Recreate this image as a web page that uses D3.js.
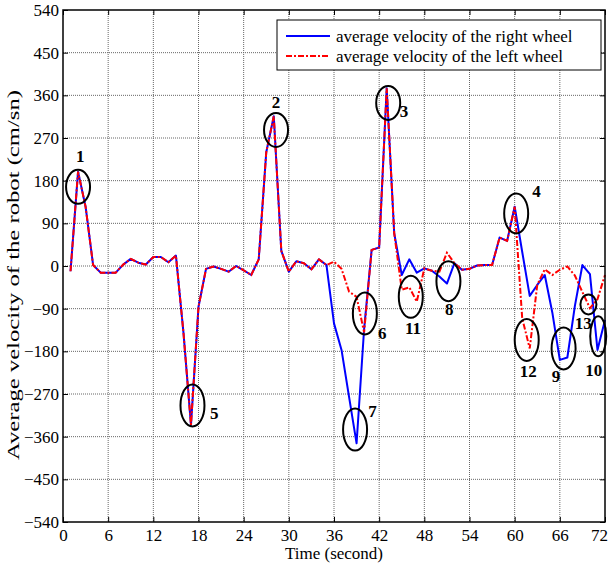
<!DOCTYPE html>
<html><head><meta charset="utf-8">
<script src="https://cdn.jsdelivr.net/npm/d3@7"></script>
<style>body{margin:0;background:#fff}svg{display:block}text{font-family:"Liberation Serif","Times New Roman",serif}</style>
</head><body>
<script>
const time = d3.range(1, 73);
const rightWheel = [-11,199,125,2,-14,-14,-14,3,15,7,3,19,19,8,22,-140,-335,-86,-6,-1,-6,-12,0,-9,-19,14,240,316,32,-12,10,6,-7,14,2,
  -121,-177,-276,-374,-133,34,39,375,69,-19,14,-14,-5,-10,-22,-37,6,-8,-6,1,2,2,60,53,125,
  30,-63,-40,-19,-98,-198,-193,-84,2,-17,-177,-114];
const leftWheel = [-11,199,125,2,-14,-14,-14,3,15,7,3,19,19,8,22,-140,-335,-86,-6,-1,-6,-12,0,-9,-19,14,240,316,32,-12,10,6,-7,14,2,
  9,-6,-54,-65,-140,34,39,375,69,-50,-45,-75,-5,-10,-12,28,6,-8,-6,1,2,2,60,53,125,
  -110,-174,-40,-7,-19,-8,-1,-20,-55,-89,-70,-19];
const xTicks = d3.range(0, 73, 6);
const yTicks = d3.range(-540, 541, 90);
const seriesNames = ["average velocity of the right wheel", "average velocity of the left wheel"];
// annotation markers: [label, time, value, rx, ry, labelTime, labelValue]
const marks = [
  ["1", 2, 167, 12, 17, 2.3, 230],
  ["2", 28.3, 287, 12, 17, 28.3, 344],
  ["3", 43.2, 344, 12, 17, 45.3, 326],
  ["4", 60.2, 111, 12, 20, 62.9, 158],
  ["5", 17.2, -294, 12, 21, 20.1, -311],
  ["6", 40.1, -100, 12, 21, 42.4, -142],
  ["7", 38.8, -345, 12, 21, 41.1, -307],
  ["8", 51.2, -32, 12, 20, 51.3, -92],
  ["9", 66.5, -174, 12, 21, 65.5, -233],
  ["10", 71.1, -148, 8, 20, 70.5, -220],
  ["11", 46.2, -65, 12, 21, 46.5, -132],
  ["12", 61.6, -156, 12, 21, 61.8, -223],
  ["13", 69.8, -81, 8, 10, 69.1, -122]
];

const W = 609, H = 569;
const m = {left: 63, right: 4, top: 10, bottom: 47};
const svg = d3.select("body").append("svg").attr("width", W).attr("height", H);
const x = d3.scaleLinear().domain([0, 72]).range([m.left, W - m.right]);
const y = d3.scaleLinear().domain([-540, 540]).range([H - m.bottom, m.top]);

// grid
const g = svg.append("g");
g.selectAll(".gx").data(xTicks.slice(1, -1)).join("line")
  .attr("x1", d => x(d)).attr("x2", d => x(d)).attr("y1", y(540)).attr("y2", y(-540))
  .attr("stroke", "#666").attr("stroke-width", 1).attr("stroke-dasharray", "1,1");
g.selectAll(".gy").data(yTicks.slice(1, -1)).join("line")
  .attr("y1", d => y(d)).attr("y2", d => y(d)).attr("x1", x(0)).attr("x2", x(72))
  .attr("stroke", "#666").attr("stroke-width", 1).attr("stroke-dasharray", "1,1");

// axes
const fs = 17;
const xAx = svg.append("g").attr("transform", `translate(0,${y(-540)})`)
  .call(d3.axisBottom(x).tickValues(xTicks).tickSizeInner(-5).tickSizeOuter(0).tickPadding(7));
const yAx = svg.append("g").attr("transform", `translate(${x(0)},0)`)
  .call(d3.axisLeft(y).tickValues(yTicks).tickSizeInner(-5).tickSizeOuter(0).tickPadding(4));
svg.append("g").attr("transform", `translate(0,${y(540)})`)
  .call(d3.axisTop(x).tickValues(xTicks).tickSizeInner(-5).tickSizeOuter(0).tickFormat(""));
svg.append("g").attr("transform", `translate(${x(72)},0)`)
  .call(d3.axisRight(y).tickValues(yTicks).tickSizeInner(-5).tickSizeOuter(0).tickFormat(""));
svg.selectAll(".domain").remove();
svg.selectAll(".tick line").attr("stroke", "#000");
svg.selectAll("g").attr("font-family", null);
[xAx, yAx].forEach(a => a.selectAll("text").attr("font-size", fs).attr("fill", "#000")
  .style("font-family", '"Liberation Serif","Times New Roman",serif'));
xAx.selectAll(".tick text").filter(d => d === 72).attr("dx", -6);

// data lines
const line = data => d3.line().x((d, i) => x(time[i])).y(d => y(d))(data);
const plot = svg.append("g");
plot.append("path").attr("d", line(rightWheel)).attr("fill", "none")
  .attr("stroke", "#0000ff").attr("stroke-width", 2).attr("stroke-linejoin", "round");
plot.append("path").attr("d", line(leftWheel)).attr("fill", "none")
  .attr("stroke", "#ff0000").attr("stroke-width", 2).attr("stroke-dasharray", "6,2,2,2");

// frame
svg.append("rect").attr("x", x(0)).attr("y", y(540)).attr("width", x(72) - x(0)).attr("height", y(-540) - y(540))
  .attr("fill", "none").attr("stroke", "#000").attr("stroke-width", 1.5);

// annotations
const an = svg.append("g");
marks.forEach(([lab, t, v, rx, ry, lt, lv]) => {
  an.append("ellipse").attr("cx", x(t)).attr("cy", y(v)).attr("rx", rx).attr("ry", ry)
    .attr("fill", "none").attr("stroke", "#000").attr("stroke-width", 2);
  an.append("text").attr("x", x(lt)).attr("y", y(lv)).attr("text-anchor", "middle")
    .attr("dominant-baseline", "central").attr("font-size", 17).attr("font-weight", "bold").text(lab);
});

// legend
const lg = svg.append("g");
lg.append("rect").attr("x", 277).attr("y", 20).attr("width", 324).attr("height", 50)
  .attr("fill", "#fff").attr("stroke", "#000").attr("stroke-width", 1);
const styles = [{c: "#0000ff", d: null}, {c: "#ff0000", d: "6,2,2,2"}];
seriesNames.forEach((n, i) => {
  const yy = 36 + i * 20;
  lg.append("line").attr("x1", 286).attr("x2", 330).attr("y1", yy).attr("y2", yy)
    .attr("stroke", styles[i].c).attr("stroke-width", 2).attr("stroke-dasharray", styles[i].d);
  lg.append("text").attr("x", 336).attr("y", yy).attr("dominant-baseline", "central")
    .attr("font-size", 17).text(n);
});

// axis titles
svg.append("text").attr("x", (x(0) + x(72)) / 2).attr("y", 559).attr("text-anchor", "middle")
  .attr("font-size", 17).text("Time (second)");
svg.append("text").attr("transform", `translate(13,275) rotate(-90)`).attr("text-anchor", "middle")
  .attr("dominant-baseline", "central").attr("font-size", 17)
  .attr("textLength", 370).attr("lengthAdjust", "spacingAndGlyphs")
  .text("Average velocity of the robot (cm/sn)");
</script>
</body></html>
